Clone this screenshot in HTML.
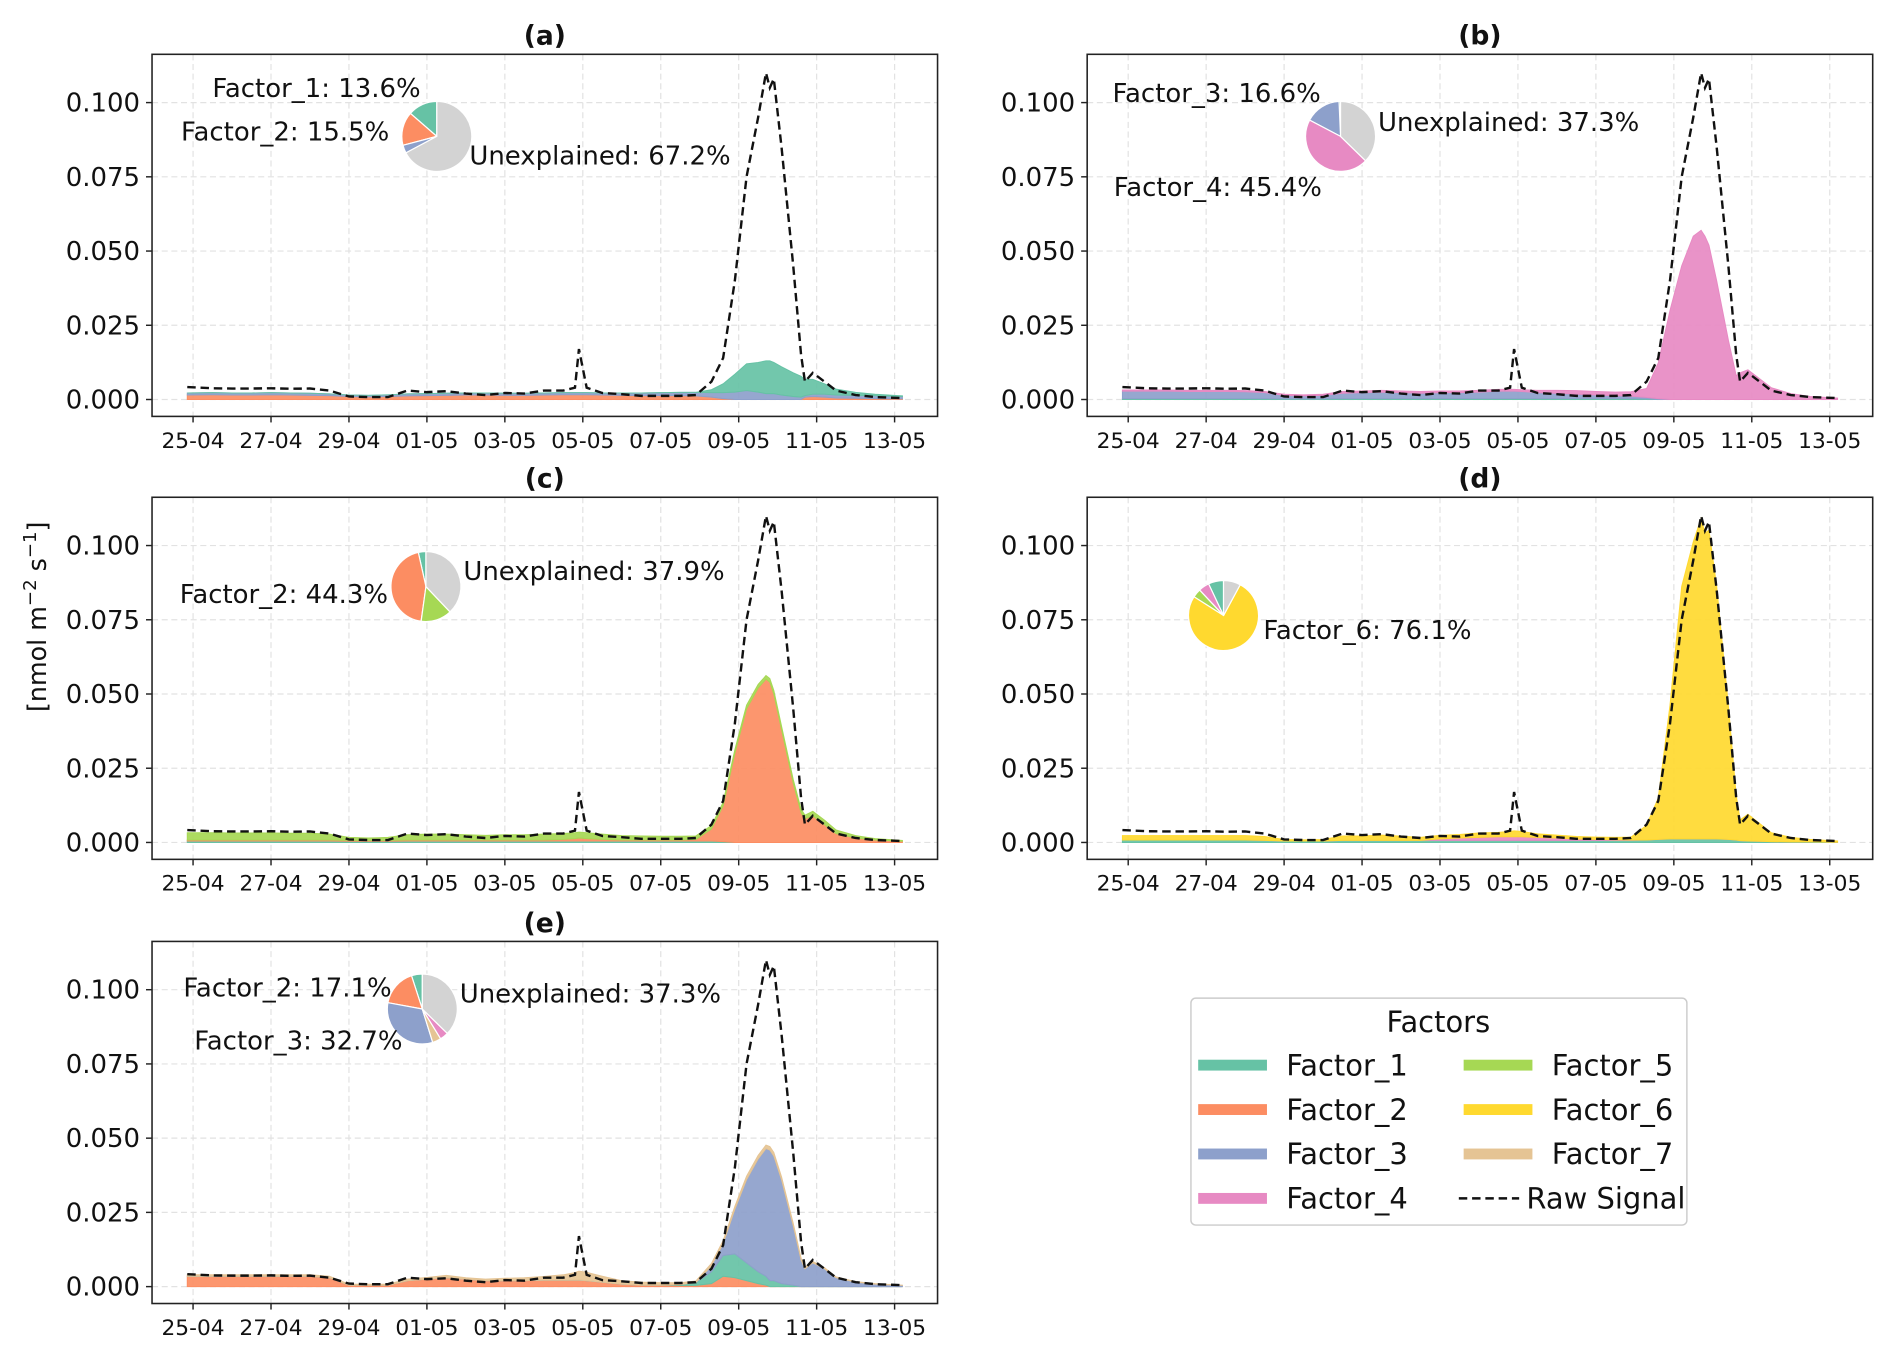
<!DOCTYPE html>
<html><head><meta charset="utf-8"><style>
body{margin:0;background:#fff}
svg{display:block;font-family:"DejaVu Sans","Liberation Sans",sans-serif}
</style></head><body>
<svg id="fig" width="1892" height="1353" viewBox="0 0 1568 1121" preserveAspectRatio="none" xmlns="http://www.w3.org/2000/svg"></svg>
<script>
// time grid: days since 25-04 00:00
const times=[-0.15,0.5,1,1.5,2,2.5,3,3.5,4,4.5,5,5.5,6,6.5,7,7.5,8,8.5,9,9.5,9.8,9.9,10.1,10.5,11,11.5,12,12.5,12.9,13.3,13.6,13.9,14.2,14.5,14.7,14.8,14.9,15.1,15.4,15.6,15.7,15.9,16.2,16.5,17,17.5,18.2];
const rawSignal=[0.0042,0.0038,0.0037,0.0037,0.0038,0.0036,0.0037,0.0030,0.0010,0.0008,0.0008,0.0030,0.0025,0.0028,0.0020,0.0015,0.0022,0.0020,0.0030,0.0030,0.0040,0.0170,0.0040,0.0022,0.0018,0.0012,0.0012,0.0012,0.0015,0.0060,0.0140,0.0400,0.0750,0.0950,0.1100,0.1050,0.1080,0.0850,0.0450,0.0150,0.0060,0.0090,0.0060,0.0030,0.0015,0.0008,0.0005];
const yTicks=[0,0.025,0.05,0.075,0.1];
const yTickLabels=["0.000","0.025","0.050","0.075","0.100"];
const xTickDays=[0,2,4,6,8,10,12,14,16,18];
const xTickLabels=["25-04","27-04","29-04","01-05","03-05","05-05","07-05","09-05","11-05","13-05"];
const colors={F1:"#66c2a5",F2:"#fc8d62",F3:"#8da0cb",F4:"#e78ac3",F5:"#a6d854",F6:"#ffd92f",F7:"#e5c494",U:"#d3d3d3"};
// panel a
const a_F2=[0.0015,0.0016,0.0015,0.0015,0.0016,0.0015,0.0014,0.0013,0.0010,0.0009,0.0010,0.0012,0.0013,0.0014,0.0015,0.0015,0.0014,0.0014,0.0015,0.0016,0.0016,0.0016,0.0016,0.0015,0.0014,0.0013,0.0013,0.0013,0.0012,0.0008,0.0003,0,0,0,0,0,0,0,0,0,0.0008,0.0010,0.0008,0.0005,0.0004,0.0003,0.0002];
const a_F1=[0,0,0,0,0,0,0,0,0,0,0,0,0,0,0,0,0,0,0,0,0,0,0,0,0,0,0,0,0,0.001,0.003,0.006,0.009,0.010,0.011,0.011,0.0105,0.0095,0.008,0.007,0.0055,0.005,0.0035,0.002,0.001,0.0005,0.0002];
const a_F3=[0.0007,0.0007,0.0007,0.0007,0.0007,0.0007,0.0007,0.0006,0.0005,0.0005,0.0006,0.0007,0.0007,0.0007,0.0007,0.0007,0.0007,0.0007,0.0007,0.0007,0.0007,0.0007,0.0007,0.0007,0.0008,0.0009,0.0010,0.0011,0.0012,0.0015,0.002,0.0025,0.003,0.0025,0.002,0.002,0.002,0.0015,0.001,0.0008,0.0005,0.0008,0.001,0.001,0.001,0.001,0.0008];
// panel b
const b_F1=[0.0003,0.0003,0.0003,0.0003,0.0003,0.0003,0.0003,0.0003,0.0002,0.0002,0.0002,0.0003,0.0003,0.0003,0.0003,0.0003,0.0003,0.0003,0.0003,0.0003,0.0003,0.0003,0.0003,0.0003,0.0003,0.0003,0.0003,0.0003,0.0003,0.0002,0,0,0,0,0,0,0,0,0,0,0,0,0,0,0,0,0];
const b_F3=[0.0025,0.0025,0.0025,0.0024,0.0024,0.0024,0.0023,0.0020,0.0012,0.0010,0.0012,0.0018,0.0020,0.0022,0.0020,0.0018,0.0020,0.0020,0.0022,0.0025,0.0025,0.0025,0.0024,0.0020,0.0018,0.0015,0.0012,0.0010,0.0008,0.0005,0.0003,0,0,0,0,0,0,0,0,0,0,0,0,0,0,0,0];
const b_F4=[0.0004,0.0004,0.0004,0.0004,0.0004,0.0004,0.0004,0.0004,0.0004,0.0004,0.0004,0.0006,0.0006,0.0006,0.0006,0.0006,0.0006,0.0006,0.0006,0.0006,0.0006,0.0006,0.0006,0.0008,0.0010,0.0012,0.0012,0.0012,0.0015,0.003,0.012,0.03,0.045,0.055,0.057,0.055,0.052,0.04,0.02,0.008,0.009,0.01,0.007,0.004,0.002,0.001,0.0005];
// panel c
const c_F1=[0.0005,0.0005,0.0005,0.0005,0.0005,0.0005,0.0005,0.0005,0.0004,0.0004,0.0004,0.0005,0.0005,0.0005,0.0005,0.0005,0.0005,0.0005,0.0005,0.0005,0.0005,0.0005,0.0005,0.0005,0.0005,0.0005,0.0005,0.0005,0.0005,0.0005,0.0003,0,0,0,0,0,0,0,0,0,0,0,0,0,0,0,0];
const c_F2=[0.0003,0.0003,0.0003,0.0003,0.0003,0.0003,0.0003,0.0003,0.0003,0.0003,0.0003,0.0003,0.0003,0.0003,0.0003,0.0003,0.0003,0.0003,0.0003,0.0005,0.0008,0.0010,0.0008,0.0005,0.0003,0.0003,0.0003,0.0003,0.0005,0.004,0.012,0.03,0.045,0.052,0.055,0.054,0.05,0.038,0.02,0.01,0.008,0.009,0.006,0.003,0.0015,0.0008,0.0004];
const c_F5=[0.0025,0.0025,0.0024,0.0024,0.0024,0.0023,0.0023,0.0020,0.0010,0.0008,0.0010,0.0018,0.0020,0.0020,0.0018,0.0016,0.0018,0.0018,0.0020,0.0020,0.0020,0.0020,0.0020,0.0018,0.0015,0.0014,0.0013,0.0013,0.0012,0.0012,0.0012,0.0012,0.0012,0.0012,0.0012,0.0012,0.0012,0.0012,0.0012,0.0012,0.0012,0.0015,0.0015,0.0012,0.0008,0.0005,0.0003];
// panel d
const d_F1=[0.0008,0.0008,0.0008,0.0008,0.0008,0.0008,0.0008,0.0007,0.0005,0.0005,0.0005,0.0007,0.0007,0.0007,0.0007,0.0007,0.0007,0.0007,0.0007,0.0007,0.0007,0.0007,0.0007,0.0007,0.0007,0.0007,0.0007,0.0007,0.0007,0.0008,0.0010,0.0012,0.0012,0.0012,0.0012,0.0012,0.0012,0.0012,0.0010,0.0008,0.0006,0.0005,0.0004,0.0003,0.0002,0.0002,0.0001];
const d_F4=[0,0,0,0,0,0,0,0,0,0,0,0,0,0,0,0,0.0005,0.0008,0.0010,0.0012,0.0012,0.0012,0.0012,0.0010,0.0008,0.0005,0.0003,0.0002,0.0001,0,0,0,0,0,0,0,0,0,0,0,0,0,0,0,0,0,0];
const d_F6=[0.0015,0.0015,0.0015,0.0015,0.0015,0.0015,0.0015,0.0013,0.0005,0.0004,0.0005,0.0015,0.0015,0.0018,0.0014,0.0010,0.0012,0.0012,0.0015,0.0015,0.0018,0.0020,0.0018,0.0012,0.0010,0.0008,0.0008,0.0008,0.0010,0.005,0.014,0.045,0.085,0.100,0.108,0.103,0.104,0.085,0.045,0.015,0.007,0.009,0.006,0.003,0.0015,0.0008,0.0004];
// panel e
const e_F2=[0.0035,0.0035,0.0035,0.0035,0.0035,0.0035,0.0035,0.0030,0.0005,0.0005,0.0005,0.0020,0.0025,0.0030,0.0025,0.0020,0.0020,0.0020,0.0022,0.0022,0.0022,0.0022,0.0020,0.0015,0.0008,0.0005,0.0005,0.0004,0.0004,0.0010,0.0035,0.0030,0.0020,0.0010,0.0005,0,0,0,0,0,0,0,0,0,0,0,0];
const e_F1=[0,0,0,0,0,0,0,0,0,0,0,0,0,0,0,0,0,0,0,0,0,0,0,0,0,0,0,0.0003,0.001,0.004,0.007,0.008,0.006,0.004,0.003,0.002,0.002,0.001,0.0005,0,0,0,0,0,0,0,0];
const e_F3=[0,0,0,0,0,0,0,0,0,0,0,0,0,0,0,0,0,0,0,0,0,0,0,0,0,0,0,0,0,0.002,0.004,0.015,0.028,0.038,0.043,0.044,0.042,0.035,0.02,0.009,0.006,0.008,0.006,0.003,0.0015,0.0008,0.0004];
const e_F7=[0.0005,0.0005,0.0005,0.0005,0.0005,0.0005,0.0005,0.0005,0.0003,0.0003,0.0003,0.0005,0.0006,0.0008,0.0005,0.0005,0.0008,0.0010,0.0012,0.0018,0.0025,0.0030,0.0028,0.0020,0.0012,0.0010,0.0008,0.0006,0.0005,0.0008,0.0010,0.0010,0.0012,0.0012,0.0012,0.0012,0.0012,0.0010,0.0008,0.0006,0.0005,0.0005,0.0004,0.0003,0.0002,0.0002,0.0001];
// pies
const pieA=[13.6,15.5,3.7,67.2], pieAKeys=["F1","F2","F3","U"];
const pieB=[0.7,16.6,45.4,37.3], pieBKeys=["F1","F3","F4","U"];
const pieC=[3.5,44.3,14.3,37.9], pieCKeys=["F1","F2","F5","U"];
const pieD=[7,5,4,76.1,7.9], pieDKeys=["F1","F4","F5","F6","U"];
const pieE=[5,17.1,32.7,4,3.9,37.3], pieEKeys=["F1","F2","F3","F7","F4","U"];

const NS="http://www.w3.org/2000/svg";
const svg=document.getElementById("fig");
function mk(tag,attrs,parent){const e=document.createElementNS(NS,tag);for(const k in attrs)e.setAttribute(k,attrs[k]);(parent||svg).appendChild(e);return e;}
function txt(s,attrs,parent){const e=mk("text",attrs,parent);e.textContent=s;return e;}

const panels=[
 {id:"a",x0:126,y0:45,series:[[a_F2,"F2"],[a_F3,"F3"],[a_F1,"F1"]],pie:[pieA,pieAKeys,362,113],
  labels:[["Factor_1: 13.6%",176,73],["Factor_2: 15.5%",150,109],["Unexplained: 67.2%",389,129]]},
 {id:"b",x0:901,y0:45,series:[[b_F1,"F1"],[b_F3,"F3"],[b_F4,"F4"]],pie:[pieB,pieBKeys,1111,113],
  labels:[["Factor_3: 16.6%",922,77],["Unexplained: 37.3%",1142,101],["Factor_4: 45.4%",923,155]]},
 {id:"c",x0:126,y0:412,series:[[c_F1,"F1"],[c_F2,"F2"],[c_F5,"F5"]],pie:[pieC,pieCKeys,353,486],
  labels:[["Factor_2: 44.3%",149,492],["Unexplained: 37.9%",384,473]]},
 {id:"d",x0:901,y0:412,series:[[d_F1,"F1"],[d_F4,"F4"],[d_F6,"F6"]],pie:[pieD,pieDKeys,1014,510],
  labels:[["Factor_6: 76.1%",1047,522]]},
 {id:"e",x0:126,y0:780,series:[[e_F2,"F2"],[e_F1,"F1"],[e_F3,"F3"],[e_F7,"F7"]],pie:[pieE,pieEKeys,350,836],
  labels:[["Factor_2: 17.1%",152,818],["Unexplained: 37.3%",381,823],["Factor_3: 32.7%",161,862]]}
];
const W=651,H=300;
panels.forEach(p=>{
  const g=mk("g",{});
  
  
  const xs=t=>p.x0+34+t*32.3;
  const ys=v=>p.y0+286-v*2460;
  yTicks.forEach((v,i)=>{
    mk("line",{x1:p.x0,x2:p.x0+W,y1:ys(v),y2:ys(v),stroke:"#e2e2e2","stroke-dasharray":"5,3","stroke-width":1},g);
    mk("line",{x1:p.x0-5,x2:p.x0,y1:ys(v),y2:ys(v),stroke:"#222","stroke-width":1.2},g);
    const t=txt(yTickLabels[i],{x:p.x0-10,y:ys(v)+7.5,"text-anchor":"end","font-size":21.5,fill:"#111"},g);
    
    
  });
  xTickDays.forEach((d,i)=>{
    mk("line",{x1:xs(d),x2:xs(d),y1:p.y0,y2:p.y0+H,stroke:"#e2e2e2","stroke-dasharray":"5,3","stroke-width":1},g);
    mk("line",{x1:xs(d),x2:xs(d),y1:p.y0+H,y2:p.y0+H+5,stroke:"#222","stroke-width":1.2},g);
    const t=txt(xTickLabels[i],{x:xs(d),y:p.y0+H+26,"text-anchor":"middle","font-size":18,fill:"#111"},g);
    
    
  });
  let base=times.map(()=>0);
  p.series.forEach(([arr,key])=>{
    const top=base.map((b,i)=>b+arr[i]);
    let d="M"+times.map((t,i)=>xs(t).toFixed(1)+","+ys(top[i]).toFixed(1)).join("L");
    for(let i=times.length-1;i>=0;i--)d+="L"+xs(times[i]).toFixed(1)+","+ys(base[i]).toFixed(1);
    const a=mk("path",{d:d+"Z",fill:colors[key],"fill-opacity":0.92,stroke:colors[key],"stroke-width":0.8},g);
    
    
    base=top;
  });
  const l=mk("path",{d:"M"+times.map((t,i)=>xs(t).toFixed(1)+","+ys(rawSignal[i]).toFixed(1)).join("L"),fill:"none",stroke:"#111","stroke-width":2,"stroke-dasharray":"7,4"},g);
  
  
  const f=mk("rect",{x:p.x0,y:p.y0,width:W,height:H,fill:"none",stroke:"#222","stroke-width":1.3},g);
  
  
  const ttl=txt("("+p.id+")",{x:p.x0+W/2,y:p.y0-8,"text-anchor":"middle","font-size":22,"font-weight":"bold",fill:"#111"},g);
  
  
  const [vals,keys,cx,cy]=p.pie;const r=29;
  const tot=vals.reduce((s,v)=>s+v,0);
  let ang=90;
  vals.forEach((v,i)=>{
    const a0=ang*Math.PI/180, a1=(ang+v/tot*360)*Math.PI/180;
    const x0=cx+r*Math.cos(a0),y0=cy-r*Math.sin(a0),x1=cx+r*Math.cos(a1),y1=cy-r*Math.sin(a1);
    const large=v/tot>0.5?1:0;
    const s=mk("path",{d:`M${cx},${cy}L${x0},${y0}A${r},${r} 0 ${large} 0 ${x1},${y1}Z`,fill:colors[keys[i]],stroke:"#fff","stroke-width":1},g);
    
    
    ang+=v/tot*360;
  });
  p.labels.forEach(([s,x,y])=>{
    const t=txt(s,{x:x,y:y+7.5,"font-size":21.5,fill:"#111"},g);
    
    
  });
});
const yt=mk("text",{x:0,y:0,transform:"translate(38,511) rotate(-90)","text-anchor":"middle","font-size":21,fill:"#111"});


yt.innerHTML='[nmol m<tspan dy="-8" font-size="15">−2</tspan><tspan dy="8"> s</tspan><tspan dy="-8" font-size="15">−1</tspan><tspan dy="8">]</tspan>';
const lg=mk("g",{});


mk("rect",{x:987,y:827,width:411,height:188,rx:4,fill:"#fff",stroke:"#ccc","stroke-width":1.2},lg);
txt("Factors",{x:1192,y:855,"text-anchor":"middle","font-size":24,fill:"#111"},lg);
const legKeys=["F1","F2","F3","F4","F5","F6","F7","raw"];
const legLabels=["Factor_1","Factor_2","Factor_3","Factor_4","Factor_5","Factor_6","Factor_7","Raw Signal"];
legKeys.forEach((k,i)=>{
  const col=Math.floor(i/4),row=i%4;
  const hx=993+col*220,y=882.5+row*36.8;
  const e=mk("g",{},lg);
  
  
  if(k==="raw"){
    mk("line",{x1:1209,x2:1259,y1:y,y2:y,stroke:"#111","stroke-width":2,"stroke-dasharray":"7,4"},e);
    txt(legLabels[i],{x:1265,y:y+8.5,"font-size":24,fill:"#111"},e);
  } else {
    mk("rect",{x:hx,y:y-4.5,width:57,height:9,fill:colors[k]},e);
    txt(legLabels[i],{x:hx+73,y:y+8.5,"font-size":24,fill:"#111"},e);
  }
});
</script>
</body></html>
